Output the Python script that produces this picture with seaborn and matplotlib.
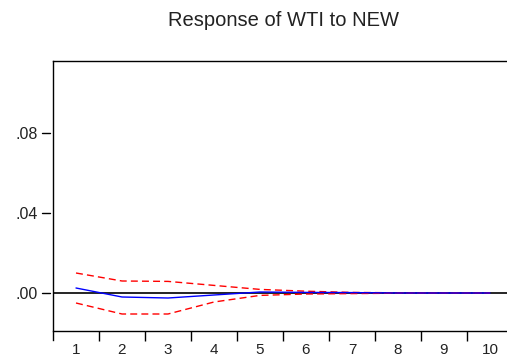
import numpy as np
import pandas as pd
import matplotlib
matplotlib.use("Agg")
import matplotlib.pyplot as plt
import matplotlib.transforms as mtransforms
from matplotlib.lines import Line2D
import seaborn as sns

periods = [1, 2, 3, 4, 5, 6, 7, 8, 9, 10]
response = [0.0025, -0.002, -0.0025, -0.001, 0.0005, 0.0003, 0.0002, 0.0, 0.0, 0.0]
upper = [0.0100, 0.0060, 0.0058, 0.0038, 0.0018, 0.0009, 0.0003, 0.0001, 0.0, 0.0]
lower = [-0.0050, -0.0105, -0.0105, -0.0045, -0.0012, -0.0005, -0.0003, -0.0001, 0.0, 0.0]
yticks = [0.0, 0.04, 0.08]
ytick_labels = [".00", ".04", ".08"]

sns.set_style("white")
plt.rcParams['font.family'] = ['Liberation Sans', 'DejaVu Sans']
plt.rcParams['text.color'] = '#222222'
plt.rcParams['xtick.color'] = 'black'
plt.rcParams['ytick.color'] = 'black'
plt.rcParams['xtick.labelcolor'] = '#222222'
plt.rcParams['ytick.labelcolor'] = '#222222'

W, H = 507, 361
fig = plt.figure(figsize=(W / 100, H / 100), dpi=100)
ax = fig.add_axes([53 / W, 1 - 331 / H, 460 / W, 270 / H])

df = pd.DataFrame({"period": periods, "response": response, "upper": upper, "lower": lower})

ax.axhline(0, color="black", lw=1.2, zorder=1)
sns.lineplot(data=df, x="period", y="upper", ax=ax, color="red", lw=1.0,
             linestyle=(0, (5, 3)), zorder=3)
sns.lineplot(data=df, x="period", y="lower", ax=ax, color="red", lw=1.0,
             linestyle=(0, (5, 3)), zorder=3)
sns.lineplot(data=df, x="period", y="response", ax=ax, color="blue", lw=1.0, zorder=4)

ylo, yhi = -0.019, 0.116
ax.set_xlim(0.5, 10.5)
ax.set_ylim(ylo, yhi)
ax.set_xlabel("")
ax.set_ylabel("")

ax.set_xticks(periods)
ax.set_xticklabels([str(p) for p in periods], fontsize=11)
ax.set_xticks([p + 0.5 for p in periods[:-1]], minor=True)
ax.tick_params(axis="x", which="major", length=0, pad=8.5)
ax.tick_params(axis="x", which="minor", direction="out", length=7, width=1,
               color="black", bottom=True)

ax.set_yticks(yticks)
ax.set_yticklabels(ytick_labels, fontsize=11.5)
ax.tick_params(axis="y", which="major", length=0, pad=11)

# y tick marks drawn with a small gap from the left spine
trans = mtransforms.blended_transform_factory(fig.transFigure, ax.transData)
for yv in yticks:
    fig.add_artist(Line2D([42 / W, 50 / W], [yv, yv], transform=trans,
                          color="black", lw=1.0))

for s in ["left", "top", "bottom", "right"]:
    ax.spines[s].set_color("black")
    ax.spines[s].set_linewidth(1.0)
# left frame edge extends a little below the bottom axis line
ext = 9 * (yhi - ylo) / 270
ax.spines["left"].set_bounds(ylo - ext, yhi)

fig.text(283 / W, 1 - 21 / H, "Response of WTI to NEW", ha="center", va="center",
         fontsize=14.5)

fig.savefig("out.png", dpi=100)
